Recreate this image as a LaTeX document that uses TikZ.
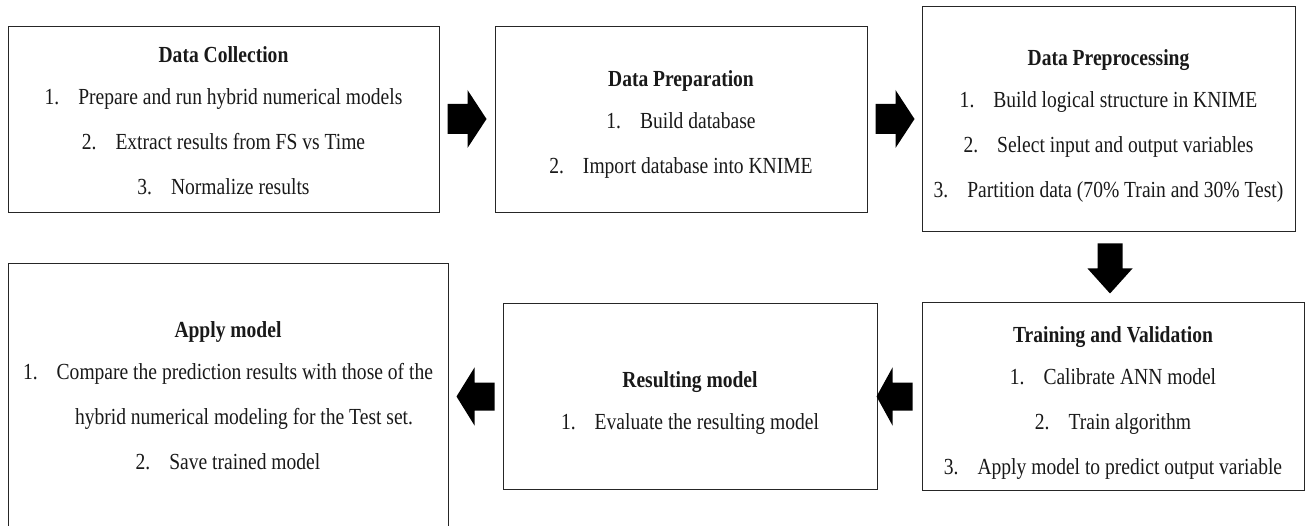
\documentclass[tikz,border=0pt]{standalone}
\usepackage{fontspec}
\setmainfont{Liberation Serif}[FakeStretch=0.85]
\usetikzlibrary{calc}
\tikzset{
  box/.style={draw=black!85, line width=1pt, inner sep=0pt},
  txt/.style={align=center, inner sep=0pt, font=\fontsize{23}{45}\selectfont, text=black!90},
  blockarrow/.style={fill=black}
}
\newcommand{\itm}[1]{#1\hspace{19pt}}
\begin{document}
\begin{tikzpicture}[x=1pt,y=-1pt]
\useasboundingbox (0,0) rectangle (1306,526);
\fill[white] (0,0) rectangle (1306,526);
\clip (0,0) rectangle (1306,526);

% boxes
\node[box, minimum width=431, minimum height=186] (b1) at (223.5,120) {};
\node[box, minimum width=372, minimum height=186] (b2) at (681,120) {};
\node[box, minimum width=373, minimum height=225] (b3) at (1108.5,119.5) {};
\node[box, minimum width=382, minimum height=187] (b4) at (1113,396.5) {};
\node[box, minimum width=374, minimum height=185] (b5) at (690,396.5) {};
\node[box, minimum width=440, minimum height=276] (b6) at (228,402) {};

% texts
\node[txt] (t1) at ($(b1.center)+(0,1)$)
  {\textbf{Data Collection}\\[-3pt]\itm{1.}Prepare and run hybrid numerical models\\\itm{2.}Extract results from FS vs Time\\\itm{3.}Normalize results};
\node[txt] (t2) at ($(b2.center)+(0,4.5)$)
  {\textbf{Data Preparation}\\[-3pt]\itm{1.}Build database\\\itm{2.}Import database into KNIME};
\node[txt] (t3) at ($(b3.center)+(0,6.5)$)
  {\textbf{Data Preprocessing}\\[-3pt]\itm{1.}Build logical structure in KNIME\\\itm{2.}Select input and output variables\\\itm{3.}Partition data (70\% Train and 30\% Test)};
\node[txt] (t4) at ($(b4.center)+(0,6.5)$)
  {\textbf{Training and Validation}\\[-3pt]\itm{1.}Calibrate ANN model\\\itm{2.}Train algorithm\\\itm{3.}Apply model to predict output variable};
\node[txt] (t5) at ($(b5.center)+(0,6.5)$)
  {\textbf{Resulting model}\\[-3pt]\itm{1.}Evaluate the resulting model};
\node[txt] (t6) at ($(b6.center)+(0,-6)$)
  {\textbf{Apply model}\\[-3pt]\itm{1.}Compare the prediction results with those of the\\\hspace*{32pt}hybrid numerical modeling for the Test set.\\\itm{2.}Save trained model};

% block arrows (right)
\coordinate (a1) at ($(b1.east)+(8,-1)$);
\fill[blockarrow] (a1) ++(0,-15) -- ++(20,0) -- ++(0,-14) -- ++(19,29) -- ++(-19,29) -- ++(0,-14) -- ++(-20,0) -- cycle;
\coordinate (a2) at ($(b2.east)+(8,-1)$);
\fill[blockarrow] (a2) ++(0,-15) -- ++(20,0) -- ++(0,-14) -- ++(19,29) -- ++(-19,29) -- ++(0,-14) -- ++(-20,0) -- cycle;
% down arrow
\coordinate (a3) at ($(b3.south)+(1.5,11)$);
\fill[blockarrow] (a3) ++(-12.5,0) -- ++(25,0) -- ++(0,25) -- ++(10,0) -- ++(-22.5,25) -- ++(-22.5,-25) -- ++(10,0) -- cycle;
% left arrows
\coordinate (a4) at ($(b4.west)+(-9,0)$);
\fill[blockarrow] (a4) ++(0,-14) -- ++(-20,0) -- ++(0,-15) -- ++(-16,29) -- ++(16,29) -- ++(0,-15) -- ++(20,0) -- cycle;
\coordinate (a5) at ($(b5.west)+(-8,0)$);
\fill[blockarrow] (a5) ++(0,-14) -- ++(-20,0) -- ++(0,-15) -- ++(-18,29) -- ++(18,29) -- ++(0,-15) -- ++(20,0) -- cycle;
\end{tikzpicture}
\end{document}
